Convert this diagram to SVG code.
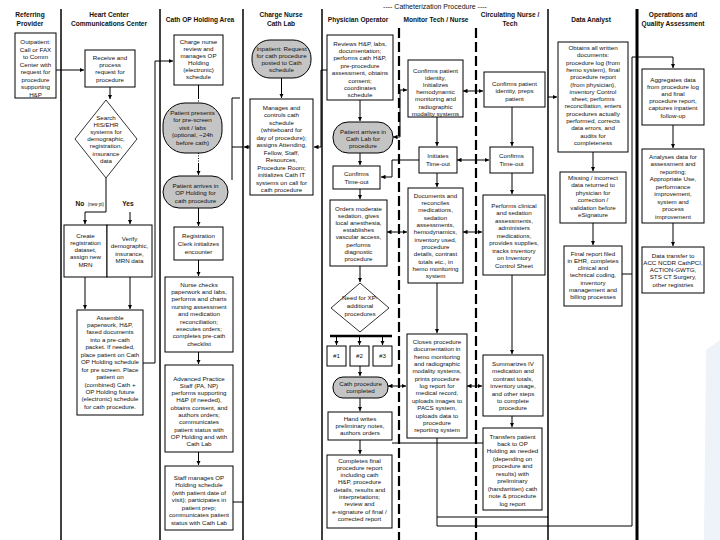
<svg xmlns="http://www.w3.org/2000/svg" width="720" height="540" viewBox="0 0 720 540">
<style>
.bx{fill:#fff;stroke:#000;stroke-width:1}
.tm{fill:#c4c4c4;stroke:#000;stroke-width:1}
.dm{fill:#fff;stroke:#000;stroke-width:0.8}
.t{font-family:"Liberation Sans",Arial,sans-serif;font-size:6.2px;text-anchor:middle;fill:#111}
.h{font-family:"Liberation Sans",Arial,sans-serif;font-size:6.6px;font-weight:bold;text-anchor:middle;fill:#111}
.ln{stroke:#000;stroke-width:1.5;fill:none}
.ld{stroke:#000;stroke-width:2.2;stroke-dasharray:10 4;fill:none}
.c{stroke:#000;stroke-width:1;fill:none}
.ca{stroke:#000;stroke-width:1;fill:none;marker-end:url(#a)}
.cb{stroke:#000;stroke-width:1;fill:none;marker-end:url(#a);marker-start:url(#a)}
.dot{stroke:#000;stroke-width:1;stroke-dasharray:1 1.5;fill:none}
</style>
<defs>
<marker id="a" viewBox="0 0 6 6" refX="6" refY="3" markerWidth="4.5" markerHeight="4.5" orient="auto-start-reverse"><path d="M0,0 L6,3 L0,6 z" fill="#000"/></marker>
</defs>
<rect width="720" height="540" fill="#fff"/>
<path d="M706,350 L720,340 L720,540 L704,540 Z" fill="#eef3fa"/>

<g id="lanes">
<line class="ln" x1="61" y1="9" x2="61" y2="540"/>
<line class="ln" x1="160" y1="9" x2="160" y2="540"/>
<line class="ln" x1="243" y1="9" x2="243" y2="540"/>
<line class="ln" x1="322" y1="9" x2="322" y2="540"/>
<line class="ld" x1="399" y1="28" x2="399" y2="540"/>
<line class="ld" x1="476" y1="28" x2="476" y2="540"/>
<line class="ln" x1="548" y1="9" x2="548" y2="540"/>
<line stroke="#000" stroke-width="3" x1="637" y1="9" x2="637" y2="540"/>
</g>

<g id="headers">
<text class="h" x="30" y="17">Referring</text><text class="h" x="30" y="26">Provider</text>
<text class="h" x="109" y="17">Heart Center</text><text class="h" x="109" y="26">Communications Center</text>
<text class="h" x="200" y="22">Cath OP Holding Area</text>
<text class="h" x="281" y="17">Charge Nurse</text><text class="h" x="281" y="26">Cath Lab</text>
<text class="t" x="435" y="8.5" style="font-size:7px">---- Catheterization Procedure ----</text>
<text class="h" x="358" y="22">Physician Operator</text>
<text class="h" x="436" y="22">Monitor Tech / Nurse</text>
<text class="h" x="510" y="17">Circulating Nurse /</text><text class="h" x="510" y="26">Tech</text>
<text class="h" x="591" y="22">Data Analyst</text>
<text class="h" x="673" y="17">Operations and</text><text class="h" x="673" y="26">Quality Assessment</text>
</g>

<g id="connectors">
<path class="ca" d="M56,70 H84"/>
<path class="ca" d="M110,87 V99"/>
<path class="ca" d="M106,178 V212 H85 V224"/>
<path class="ca" d="M130,212 V224"/>
<path class="ca" d="M85,277 V309"/>
<path class="ca" d="M130,277 V309"/>
<path class="ca" d="M143,363 H155 V61 H173"/>
<path class="c" d="M198.5,85 V98"/>
<path class="dot" d="M198.5,98 V103"/>
<path class="dot" d="M198.5,153 V163"/>
<path class="ca" d="M198.5,163 V175"/>
<path class="ca" d="M198.5,208 V226"/>
<path class="ca" d="M198.5,260 V276"/>
<path class="ca" d="M198.5,352 V364"/>
<path class="ca" d="M198.5,452 V465"/>
<path class="c" d="M233,502 H243"/>
<path class="ca" d="M281.5,78 V98"/>
<path class="ca" d="M327,70 H321 V147 H314"/>
<path class="ca" d="M250,147 H244"/>
<path class="c" d="M243,147 H232"/>
<path class="c" d="M232,98 V180"/>
<path class="c" d="M232,98 H240"/>
<path class="ca" d="M360,100 V121"/>
<path class="cb" d="M393,137 H400 V90 H407"/>
<path class="ca" d="M360,153 V165"/>
<path class="ca" d="M419,160 H392 V177 H381"/>
<path class="ca" d="M360,189 V199"/>
<path class="cb" d="M387,232 H407"/>
<path class="ca" d="M360,266 V282"/>
<line x1="330" y1="336" x2="392" y2="336" stroke="#000" stroke-width="2.5"/>
<path class="ca" d="M336.5,337 V345"/>
<path class="ca" d="M359.5,337 V345"/>
<path class="ca" d="M382.5,337 V345"/>
<path class="ca" d="M360,366 V376"/>
<path class="cb" d="M388,386 H406"/>
<path class="ca" d="M360,398 V411"/>
<path class="ca" d="M360,440 V454"/>
<path class="cb" d="M463,91 H483"/>
<path class="ca" d="M437,117 V146"/>
<path class="cb" d="M457,160 H489"/>
<path class="ca" d="M512,107 V146"/>
<path class="ca" d="M437,173 V187"/>
<path class="cb" d="M463,232 H482"/>
<path class="ca" d="M512,173 V194"/>
<path class="ca" d="M437,283 V333"/>
<path class="cb" d="M467,386 H482"/>
<path class="ca" d="M512,275 V354"/>
<path class="ca" d="M512,416 V427"/>
<path class="c" d="M392,443 H483"/>
<path class="c" d="M437,438 V526 H632 V57 H673"/>
<path class="ca" d="M673,57 V68"/>
<path class="c" d="M437,517 H548"/>
<path class="ca" d="M548,97 H557"/>
<path class="c" d="M622,274 H632"/>
<path class="ca" d="M593,152 V171"/>
<path class="ca" d="M593,223 V245"/>
<path class="ca" d="M673,125 V148"/>
<path class="ca" d="M673,223 V246"/>
</g>

<g id="n_outpatient"><rect class="bx" x="15" y="33" width="41" height="65"/>
<text class="t" x="35.5" y="44"><tspan x="35.5">Outpatient:</tspan><tspan x="35.5" dy="7.5">Call or FAX</tspan><tspan x="35.5" dy="7.5">to Comm</tspan><tspan x="35.5" dy="7.5">Center with</tspan><tspan x="35.5" dy="7.5">request for</tspan><tspan x="35.5" dy="7.5">procedure</tspan><tspan x="35.5" dy="7.5">supporting</tspan><tspan x="35.5" dy="7.5">H&amp;P</tspan></text></g>

<g id="n_receive"><rect class="bx" x="85" y="50" width="50" height="37"/>
<text class="t" x="110" y="59.5"><tspan x="110">Receive and</tspan><tspan x="110" dy="7.4">process</tspan><tspan x="110" dy="7.4">request for</tspan><tspan x="110" dy="7.4">procedure</tspan></text></g>

<g id="n_search"><polygon class="dm" points="106,100 137,139 106,178 75,139"/>
<text class="t" x="106" y="119.5"><tspan x="106">Search</tspan><tspan x="106" dy="7.2">HIS/EHR</tspan><tspan x="106" dy="7.2">systems for</tspan><tspan x="106" dy="7.2">demographic,</tspan><tspan x="106" dy="7.2">registration,</tspan><tspan x="106" dy="7.2">insurance</tspan><tspan x="106" dy="7.2">data</tspan></text></g>

<g id="labels">
<text class="h" x="80" y="206">No</text><text class="t" x="96" y="206" style="font-size:4.5px">(new pt)</text>
<text class="h" x="128" y="206">Yes</text>
</g>

<g id="n_create"><rect class="bx" x="64" y="225" width="43" height="52"/>
<text class="t" x="85.5" y="237.5"><tspan x="85.5">Create</tspan><tspan x="85.5" dy="7.3">registration</tspan><tspan x="85.5" dy="7.3">dataset,</tspan><tspan x="85.5" dy="7.3">assign new</tspan><tspan x="85.5" dy="7.3">MRN</tspan></text></g>

<g id="n_verify"><rect class="bx" x="107" y="225" width="45" height="52"/>
<text class="t" x="129.5" y="240.5"><tspan x="129.5">Verify</tspan><tspan x="129.5" dy="7.6">demographic,</tspan><tspan x="129.5" dy="7.6">insurance,</tspan><tspan x="129.5" dy="7.6">MRN data</tspan></text></g>

<g id="n_assemble"><rect class="bx" x="77" y="310" width="66" height="105"/>
<text class="t" x="110" y="319.5"><tspan x="110">Assemble</tspan><tspan x="110" dy="7.45">paperwork, H&amp;P,</tspan><tspan x="110" dy="7.45">faxed documents</tspan><tspan x="110" dy="7.45">into a pre-cath</tspan><tspan x="110" dy="7.45">packet. If needed,</tspan><tspan x="110" dy="7.45">place patient on Cath</tspan><tspan x="110" dy="7.45">OP Holding schedule</tspan><tspan x="110" dy="7.45">for pre screen. Place</tspan><tspan x="110" dy="7.45">patient on</tspan><tspan x="110" dy="7.45">(combined) Cath +</tspan><tspan x="110" dy="7.45">OP Holding future</tspan><tspan x="110" dy="7.45">(electronic) schedule</tspan><tspan x="110" dy="7.45">for cath procedure.</tspan></text></g>

<g id="n_charge_review"><rect class="bx" x="174" y="35" width="49" height="50"/>
<text class="t" x="198.5" y="44"><tspan x="198.5">Charge nurse</tspan><tspan x="198.5" dy="7">review and</tspan><tspan x="198.5" dy="7">manages OP</tspan><tspan x="198.5" dy="7">Holding</tspan><tspan x="198.5" dy="7">(electronic)</tspan><tspan x="198.5" dy="7">schedule</tspan></text></g>

<g id="n_prescreen"><rect class="tm" x="163" y="103" width="59" height="50" rx="22" ry="22"/>
<text class="t" x="192.5" y="114.5"><tspan x="192.5">Patient presents</tspan><tspan x="192.5" dy="7.5">for pre-screen</tspan><tspan x="192.5" dy="7.5">visit / labs</tspan><tspan x="192.5" dy="7.5">(optional, ~24h</tspan><tspan x="192.5" dy="7.5">before cath)</tspan></text></g>

<g id="n_arrive_op"><rect class="tm" x="163" y="176" width="65" height="32" rx="16" ry="16"/>
<text class="t" x="195.5" y="187.5"><tspan x="195.5">Patient arrives in</tspan><tspan x="195.5" dy="7.5">OP Holding for</tspan><tspan x="195.5" dy="7.5">cath procedure</tspan></text></g>

<g id="n_registration"><rect class="bx" x="174" y="227" width="49" height="33"/>
<text class="t" x="198.5" y="237.5"><tspan x="198.5">Registration</tspan><tspan x="198.5" dy="8">Clerk initializes</tspan><tspan x="198.5" dy="8">encounter</tspan></text></g>

<g id="n_nurse_checks"><rect class="bx" x="165" y="277" width="68" height="75"/>
<text class="t" x="199" y="286.5"><tspan x="199">Nurse checks</tspan><tspan x="199" dy="7.4">paperwork and labs,</tspan><tspan x="199" dy="7.4">performs and charts</tspan><tspan x="199" dy="7.4">nursing assessment</tspan><tspan x="199" dy="7.4">and medication</tspan><tspan x="199" dy="7.4">reconciliation;</tspan><tspan x="199" dy="7.4">executes orders;</tspan><tspan x="199" dy="7.4">completes pre-cath</tspan><tspan x="199" dy="7.4">checklist</tspan></text></g>

<g id="n_adv_practice"><rect class="bx" x="165" y="365" width="68" height="87"/>
<text class="t" x="199" y="380.5"><tspan x="199">Advanced Practice</tspan><tspan x="199" dy="7.3">Staff (PA, NP)</tspan><tspan x="199" dy="7.3">performs supporting</tspan><tspan x="199" dy="7.3">H&amp;P (if needed),</tspan><tspan x="199" dy="7.3">obtains consent, and</tspan><tspan x="199" dy="7.3">authors orders;</tspan><tspan x="199" dy="7.3">communicates</tspan><tspan x="199" dy="7.3">patient status with</tspan><tspan x="199" dy="7.3">OP Holding and with</tspan><tspan x="199" dy="7.3">Cath Lab</tspan></text></g>

<g id="n_staff_op"><rect class="bx" x="165" y="466" width="68" height="64"/>
<text class="t" x="199" y="479.5"><tspan x="199">Staff manages OP</tspan><tspan x="199" dy="7.5">Holding schedule</tspan><tspan x="199" dy="7.5">(with patient date of</tspan><tspan x="199" dy="7.5">visit); participates in</tspan><tspan x="199" dy="7.5">patient prep;</tspan><tspan x="199" dy="7.5">communicates patient</tspan><tspan x="199" dy="7.5">status with Cath Lab</tspan></text></g>

<g id="n_inpatient"><rect class="tm" x="252" y="40" width="59" height="38" rx="18" ry="18"/>
<text class="t" x="281.5" y="50.5"><tspan x="281.5">Inpatient: Request</tspan><tspan x="281.5" dy="7.3">for cath procedure</tspan><tspan x="281.5" dy="7.3">posted to Cath</tspan><tspan x="281.5" dy="7.3">schedule</tspan></text></g>

<g id="n_manages"><rect class="bx" x="250" y="99" width="63" height="96"/>
<text class="t" x="281.5" y="109.5"><tspan x="281.5">Manages and</tspan><tspan x="281.5" dy="7.5">controls cath</tspan><tspan x="281.5" dy="7.5">schedule</tspan><tspan x="281.5" dy="7.5">(whiteboard for</tspan><tspan x="281.5" dy="7.5">day of procedure);</tspan><tspan x="281.5" dy="7.5">assigns Attending,</tspan><tspan x="281.5" dy="7.5">Fellow, Staff,</tspan><tspan x="281.5" dy="7.5">Resources,</tspan><tspan x="281.5" dy="7.5">Procedure Room;</tspan><tspan x="281.5" dy="7.5">initializes Cath IT</tspan><tspan x="281.5" dy="7.5">systems on call for</tspan><tspan x="281.5" dy="7.5">cath procedure</tspan></text></g>

<g id="n_reviews"><rect class="bx" x="327" y="35" width="66" height="65"/>
<text class="t" x="360" y="45.5"><tspan x="360">Reviews H&amp;P, labs,</tspan><tspan x="360" dy="7.4">documentation;</tspan><tspan x="360" dy="7.4">performs cath H&amp;P,</tspan><tspan x="360" dy="7.4">pre-procedure</tspan><tspan x="360" dy="7.4">assessment, obtains</tspan><tspan x="360" dy="7.4">consent;</tspan><tspan x="360" dy="7.4">coordinates</tspan><tspan x="360" dy="7.4">schedule</tspan></text></g>

<g id="n_arrive_cath"><rect class="tm" x="333" y="122" width="60" height="31" rx="15" ry="15"/>
<text class="t" x="363" y="134"><tspan x="363">Patient arrives in</tspan><tspan x="363" dy="7">Cath Lab for</tspan><tspan x="363" dy="7">procedure</tspan></text></g>

<g id="n_confirms_timeout_phys"><rect class="bx" x="333" y="166" width="47" height="23"/>
<text class="t" x="356.5" y="175.5"><tspan x="356.5">Confirms</tspan><tspan x="356.5" dy="8">Time-out</tspan></text></g>

<g id="n_orders"><rect class="bx" x="330" y="200" width="57" height="66"/>
<text class="t" x="358.5" y="210.5"><tspan x="358.5">Orders moderate</tspan><tspan x="358.5" dy="7.2">sedation, gives</tspan><tspan x="358.5" dy="7.2">local anesthesia,</tspan><tspan x="358.5" dy="7.2">establishes</tspan><tspan x="358.5" dy="7.2">vascular access,</tspan><tspan x="358.5" dy="7.2">performs</tspan><tspan x="358.5" dy="7.2">diagnostic</tspan><tspan x="358.5" dy="7.2">procedure</tspan></text></g>

<g id="n_need"><polygon class="dm" points="360,283 389,308 360,332 331,308"/>
<text class="t" x="360" y="300"><tspan x="360">Need for XP-</tspan><tspan x="360" dy="8">additional</tspan><tspan x="360" dy="8">procedures</tspan></text></g>

<g id="n_p1"><rect class="bx" x="327" y="346" width="19" height="20"/><text class="t" x="336.5" y="358">#1</text></g>
<g id="n_p2"><rect class="bx" x="350" y="346" width="19" height="20"/><text class="t" x="359.5" y="358">#2</text></g>
<g id="n_p3"><rect class="bx" x="373" y="346" width="19" height="20"/><text class="t" x="382.5" y="358">#3</text></g>

<g id="n_completed"><rect class="tm" x="333" y="377" width="55" height="21" rx="10" ry="10"/>
<text class="t" x="360.5" y="386"><tspan x="360.5">Cath procedure</tspan><tspan x="360.5" dy="7">completed</tspan></text></g>

<g id="n_handwrites"><rect class="bx" x="328" y="412" width="64" height="28"/>
<text class="t" x="360" y="420.5"><tspan x="360">Hand writes</tspan><tspan x="360" dy="7">preliminary notes,</tspan><tspan x="360" dy="7">authors orders</tspan></text></g>

<g id="n_completes"><rect class="bx" x="327" y="455" width="65" height="73"/>
<text class="t" x="359.5" y="462.5"><tspan x="359.5">Completes final</tspan><tspan x="359.5" dy="7.3">procedure report</tspan><tspan x="359.5" dy="7.3">including cath</tspan><tspan x="359.5" dy="7.3">H&amp;P, procedure</tspan><tspan x="359.5" dy="7.3">details, results and</tspan><tspan x="359.5" dy="7.3">interpretations;</tspan><tspan x="359.5" dy="7.3">review and</tspan><tspan x="359.5" dy="7.3">e-signature of final /</tspan><tspan x="359.5" dy="7.3">corrected report</tspan></text></g>

<g id="n_confirms_patient"><rect class="bx" x="408" y="60" width="55" height="57"/>
<text class="t" x="435.5" y="72.5"><tspan x="435.5">Confirms patient</tspan><tspan x="435.5" dy="7.2">identity,</tspan><tspan x="435.5" dy="7.2">Initializes</tspan><tspan x="435.5" dy="7.2">hemodynamic</tspan><tspan x="435.5" dy="7.2">monitoring and</tspan><tspan x="435.5" dy="7.2">radiographic</tspan><tspan x="435.5" dy="7.2">modality systems</tspan></text></g>

<g id="n_initiates"><rect class="bx" x="419" y="147" width="38" height="26"/>
<text class="t" x="438" y="157.5"><tspan x="438">Initiates</tspan><tspan x="438" dy="8">Time-out</tspan></text></g>

<g id="n_documents"><rect class="bx" x="408" y="188" width="55" height="95"/>
<text class="t" x="435.5" y="197.5"><tspan x="435.5">Documents and</tspan><tspan x="435.5" dy="7.35">reconciles</tspan><tspan x="435.5" dy="7.35">medications,</tspan><tspan x="435.5" dy="7.35">sedation</tspan><tspan x="435.5" dy="7.35">assessments,</tspan><tspan x="435.5" dy="7.35">hemodynamics,</tspan><tspan x="435.5" dy="7.35">inventory used,</tspan><tspan x="435.5" dy="7.35">procedure</tspan><tspan x="435.5" dy="7.35">details, contrast</tspan><tspan x="435.5" dy="7.35">totals etc., in</tspan><tspan x="435.5" dy="7.35">hemo monitoring</tspan><tspan x="435.5" dy="7.35">system</tspan></text></g>

<g id="n_closes"><rect class="bx" x="407" y="334" width="60" height="104"/>
<text class="t" x="437" y="344"><tspan x="437">Closes procedure</tspan><tspan x="437" dy="7.35">documentation in</tspan><tspan x="437" dy="7.35">hemo monitoring</tspan><tspan x="437" dy="7.35">and radiographic</tspan><tspan x="437" dy="7.35">modality systems,</tspan><tspan x="437" dy="7.35">prints procedure</tspan><tspan x="437" dy="7.35">log report for</tspan><tspan x="437" dy="7.35">medical record,</tspan><tspan x="437" dy="7.35">uploads images to</tspan><tspan x="437" dy="7.35">PACS system,</tspan><tspan x="437" dy="7.35">uploads data to</tspan><tspan x="437" dy="7.35">procedure</tspan><tspan x="437" dy="7.35">reporting system</tspan></text></g>

<g id="n_confirms_preps"><rect class="bx" x="484" y="72" width="61" height="35"/>
<text class="t" x="514.5" y="85.5"><tspan x="514.5">Confirms patient</tspan><tspan x="514.5" dy="7.5">identity, preps</tspan><tspan x="514.5" dy="7.5">patient</tspan></text></g>

<g id="n_confirms_timeout_circ"><rect class="bx" x="490" y="147" width="43" height="26"/>
<text class="t" x="511.5" y="157.5"><tspan x="511.5">Confirms</tspan><tspan x="511.5" dy="8">Time-out</tspan></text></g>

<g id="n_performs"><rect class="bx" x="483" y="195" width="62" height="80"/>
<text class="t" x="514" y="207.5"><tspan x="514">Performs clinical</tspan><tspan x="514" dy="7.5">and sedation</tspan><tspan x="514" dy="7.5">assessments,</tspan><tspan x="514" dy="7.5">administers</tspan><tspan x="514" dy="7.5">medications,</tspan><tspan x="514" dy="7.5">provides supplies,</tspan><tspan x="514" dy="7.5">tracks inventory</tspan><tspan x="514" dy="7.5">on Inventory</tspan><tspan x="514" dy="7.5">Control Sheet</tspan></text></g>

<g id="n_summarizes"><rect class="bx" x="483" y="355" width="60" height="61"/>
<text class="t" x="513" y="366"><tspan x="513">Summarizes IV</tspan><tspan x="513" dy="7.4">medication and</tspan><tspan x="513" dy="7.4">contrast totals,</tspan><tspan x="513" dy="7.4">inventory usage,</tspan><tspan x="513" dy="7.4">and other steps</tspan><tspan x="513" dy="7.4">to complete</tspan><tspan x="513" dy="7.4">procedure</tspan></text></g>

<g id="n_transfers"><rect class="bx" x="483" y="428" width="59" height="82"/>
<text class="t" x="512.5" y="438.5"><tspan x="512.5">Transfers patient</tspan><tspan x="512.5" dy="7.45">back to OP</tspan><tspan x="512.5" dy="7.45">Holding as needed</tspan><tspan x="512.5" dy="7.45">(depending on</tspan><tspan x="512.5" dy="7.45">procedure and</tspan><tspan x="512.5" dy="7.45">results) with</tspan><tspan x="512.5" dy="7.45">preliminary</tspan><tspan x="512.5" dy="7.45">(handwritten) cath</tspan><tspan x="512.5" dy="7.45">note &amp; procedure</tspan><tspan x="512.5" dy="7.45">log report</tspan></text></g>

<g id="n_obtains"><rect class="bx" x="558" y="42" width="70" height="110"/>
<text class="t" x="593" y="50"><tspan x="593">Obtains all written</tspan><tspan x="593" dy="7.3">documents:</tspan><tspan x="593" dy="7.3">procedure log (from</tspan><tspan x="593" dy="7.3">hemo system), final</tspan><tspan x="593" dy="7.3">procedure report</tspan><tspan x="593" dy="7.3">(from physician),</tspan><tspan x="593" dy="7.3">inventory Control</tspan><tspan x="593" dy="7.3">sheet; performs</tspan><tspan x="593" dy="7.3">reconciliation, enters</tspan><tspan x="593" dy="7.3">procedures actually</tspan><tspan x="593" dy="7.3">performed, corrects</tspan><tspan x="593" dy="7.3">data errors, and</tspan><tspan x="593" dy="7.3">audits for</tspan><tspan x="593" dy="7.3">completeness</tspan></text></g>

<g id="n_missing"><rect class="bx" x="560" y="172" width="66" height="51"/>
<text class="t" x="593" y="180"><tspan x="593">Missing / incorrect</tspan><tspan x="593" dy="7.4">data returned to</tspan><tspan x="593" dy="7.4">physician for</tspan><tspan x="593" dy="7.4">correction /</tspan><tspan x="593" dy="7.4">validation before</tspan><tspan x="593" dy="7.4">eSignature</tspan></text></g>

<g id="n_final"><rect class="bx" x="564" y="246" width="58" height="60"/>
<text class="t" x="593" y="255.5"><tspan x="593">Final report filed</tspan><tspan x="593" dy="7.3">in EHR, completes</tspan><tspan x="593" dy="7.3">clinical and</tspan><tspan x="593" dy="7.3">technical coding,</tspan><tspan x="593" dy="7.3">inventory</tspan><tspan x="593" dy="7.3">management and</tspan><tspan x="593" dy="7.3">billing processes</tspan></text></g>

<g id="n_aggregates"><rect class="bx" x="642" y="69" width="62" height="56"/>
<text class="t" x="673" y="82"><tspan x="673">Aggregates data</tspan><tspan x="673" dy="7.1">from procedure log</tspan><tspan x="673" dy="7.1">and final</tspan><tspan x="673" dy="7.1">procedure report,</tspan><tspan x="673" dy="7.1">captures inpatient</tspan><tspan x="673" dy="7.1">follow-up</tspan></text></g>

<g id="n_analyses"><rect class="bx" x="642" y="149" width="62" height="74"/>
<text class="t" x="673" y="158.5"><tspan x="673">Analyses data for</tspan><tspan x="673" dy="7.5">assessment and</tspan><tspan x="673" dy="7.5">reporting;</tspan><tspan x="673" dy="7.5">Appropriate Use,</tspan><tspan x="673" dy="7.5">performance</tspan><tspan x="673" dy="7.5">improvement,</tspan><tspan x="673" dy="7.5">system and</tspan><tspan x="673" dy="7.5">process</tspan><tspan x="673" dy="7.5">improvement</tspan></text></g>

<g id="n_datatransfer"><rect class="bx" x="642" y="247" width="62" height="46"/>
<text class="t" x="673" y="257.5"><tspan x="673">Data transfer to</tspan><tspan x="673" dy="7.3">ACC NCDR CathPCI,</tspan><tspan x="673" dy="7.3">ACTION-GWTG,</tspan><tspan x="673" dy="7.3">STS CT Surgery,</tspan><tspan x="673" dy="7.3">other registries</tspan></text></g>
</svg>
